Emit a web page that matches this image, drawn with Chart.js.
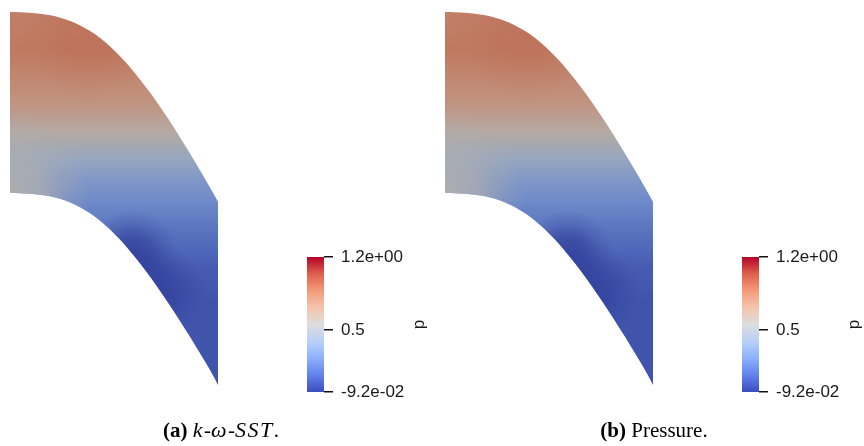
<!DOCTYPE html>
<html><head><meta charset="utf-8">
<script src="https://cdn.jsdelivr.net/npm/chart.js@4.4.0/dist/chart.umd.min.js"></script>
<style>
html,body{margin:0;padding:0;background:#fff;}
#wrap{position:relative;width:864px;height:446px;overflow:hidden;background:#fff;}
canvas{position:absolute;}
.cap{position:absolute;top:419px;width:260px;text-align:center;font-family:"Liberation Serif","Times New Roman",serif;font-size:21px;line-height:22px;color:#000;white-space:nowrap;}
.cap b{font-weight:bold;}
.cap i{font-style:italic;font-size:22px;letter-spacing:1.5px;}
</style></head><body>
<div id="wrap">
<canvas id="fa" width="230" height="400" style="left:0px;top:0px"></canvas>
<canvas id="fb" width="230" height="400" style="left:435px;top:0px"></canvas>
<canvas id="ca" width="150" height="190" style="left:290px;top:230px"></canvas>
<canvas id="cb" width="139" height="190" style="left:725px;top:230px"></canvas>
<div class="cap" style="left:91px"><b>(a)</b> <i>k</i>-<i>ω</i>-<i>SST</i>.</div>
<div class="cap" style="left:524px"><b>(b)</b> Pressure.</div>
</div>
<script>
// ---- geometry of the domain (data units) ----
const topEdgeX = [0,10,20,30,40,50,60,70,80,90,100,110,120,130,140,150,160,170,180,190,200,208];
const topEdgeY = [373,372.8,372.3,371.3,369.7,367.3,364,359.6,354,347.1,338.6,328.8,317.8,305.6,292.4,278.3,263.4,247.8,231.6,214.8,197.5,183.3];
const bottomEdgeX = [0,10,20,30,40,50,60,70,80,90,100,110,120,130,140,150,160,170,180,190,200,208];
const bottomEdgeY = [192,191.8,191.3,190.3,188.7,186.2,182.6,177.8,171.7,164.3,155.5,145.4,134.1,121.7,108.4,94.3,79.5,64.1,48.2,31.8,14.9,0];

// ---- pressure read along the height of the domain ----
const profileY = [373,335,285,252,225,205,185,152,118,85,0];
const profileP = [0.85,0.88,0.76,0.60,0.42,0.31,0.23,0.12,0.03,0.0,0.0];

// ---- local pressure extremes (centre, radius, value) ----
const spotX = [80,0,123,150];
const spotY = [355,192,130,95];
const spotR = [70,80,45,45];
const spotP = [0.93,0.55,-0.092,-0.092];
const spotA = [0.5,1.0,0.8,0.65];

// ---- colour bar ----
const pMin = -0.092, pMax = 1.2;
const tickValues = [-0.092, 0.5, 1.2];
const tickLabels = ['-9.2e-02', '0.5', '1.2e+00'];
const barTitle = 'p';

// ---- style ----
const CW = [[59,76,192],[98,130,234],[141,176,254],[184,208,249],[221,221,221],[244,196,173],[244,154,123],[222,96,77],[180,4,38]];
const SHADE = 0.79;
const LABEL_FONT = {family:'"Liberation Sans", Arial, sans-serif', size:17};

function cmap(p, shade, alpha){
  let f = (p - pMin) / (pMax - pMin);
  f = Math.max(0, Math.min(1, f));
  const s = f * 8, i = Math.min(7, Math.floor(s)), t = s - i;
  const c = CW[i].map((v,k)=>Math.round((v + (CW[i+1][k]-v)*t) * shade));
  return 'rgba(' + c[0] + ',' + c[1] + ',' + c[2] + ',' + alpha + ')';
}

function baseFill(context){
  const ch = context.chart;
  if (!ch.chartArea) return cmap(0.5, SHADE, 1);
  const ys = ch.scales.y;
  const y0 = ys.getPixelForValue(profileY[0]);
  const y1 = ys.getPixelForValue(profileY[profileY.length-1]);
  const g = ch.ctx.createLinearGradient(0, y0, 0, y1);
  profileY.forEach((v,i)=>{
    g.addColorStop((ys.getPixelForValue(v)-y0)/(y1-y0), cmap(profileP[i], SHADE, 1));
  });
  return g;
}
function spotFill(k){
  return function(context){
    const ch = context.chart;
    if (!ch.chartArea) return 'rgba(0,0,0,0)';
    const xs = ch.scales.x, ys = ch.scales.y;
    const cx = xs.getPixelForValue(spotX[k]), cy = ys.getPixelForValue(spotY[k]);
    const r = Math.abs(xs.getPixelForValue(spotX[k]+spotR[k]) - cx);
    const g = ch.ctx.createRadialGradient(cx, cy, 0, cx, cy, r);
    const a = spotA[k];
    g.addColorStop(0, cmap(spotP[k], SHADE, a));
    g.addColorStop(0.4, cmap(spotP[k], SHADE, a*0.75));
    g.addColorStop(0.7, cmap(spotP[k], SHADE, a*0.3));
    g.addColorStop(1, cmap(spotP[k], SHADE, 0));
    return g;
  };
}
function edgePair(fillFn, order){
  const common = {borderWidth:0, borderColor:'rgba(0,0,0,0)', pointRadius:0, pointHoverRadius:0, cubicInterpolationMode:'monotone', order:order};
  return [
    Object.assign({data: topEdgeX.map((x,i)=>({x:x, y:topEdgeY[i]})), fill:'+1', backgroundColor: fillFn}, common),
    Object.assign({data: bottomEdgeX.map((x,i)=>({x:x, y:bottomEdgeY[i]})), fill:false, backgroundColor:'rgba(0,0,0,0)'}, common)
  ];
}
function fieldChart(id){
  let ds = edgePair(baseFill, 20);
  spotX.forEach((_,k)=>{ ds = ds.concat(edgePair(spotFill(k), 10-k)); });
  return new Chart(document.getElementById(id), {
    type:'line',
    data:{datasets: ds},
    options:{
      responsive:false, animation:false, events:[],
      layout:{padding:0},
      plugins:{legend:{display:false}, tooltip:{enabled:false}},
      scales:{
        x:{type:'linear', min:-10, max:220, display:false},
        y:{type:'linear', min:-15, max:385, display:false}
      }
    }
  });
}

const cbTitlePlugin = {
  id:'cbTitle',
  afterDraw(chart, args, opts){
    const {ctx, chartArea} = chart;
    ctx.save();
    ctx.translate(chartArea.right + opts.dx, (chartArea.top + chartArea.bottom)/2 + opts.dy);
    ctx.rotate(-Math.PI/2);
    ctx.font = LABEL_FONT.size + 'px ' + LABEL_FONT.family;
    ctx.fillStyle = '#1a1a1a';
    ctx.textAlign = 'center';
    ctx.textBaseline = 'middle';
    ctx.fillText(opts.text, 0, 0);
    ctx.restore();
  }
};
function barFill(context){
  const ch = context.chart;
  if (!ch.chartArea) return cmap(0.5, 1, 1);
  const ys = ch.scales.y;
  const y0 = ys.getPixelForValue(pMin), y1 = ys.getPixelForValue(pMax);
  const g = ch.ctx.createLinearGradient(0, y0, 0, y1);
  CW.forEach((c,i)=>{ g.addColorStop(i/(CW.length-1), 'rgb(' + c.join(',') + ')'); });
  return g;
}
function colorBar(id, axisW, dx){
  return new Chart(document.getElementById(id), {
    type:'bar',
    data:{labels:[barTitle], datasets:[{data:[[pMin,pMax]], backgroundColor:barFill, borderWidth:0, barPercentage:1, categoryPercentage:1}]},
    options:{
      responsive:false, animation:false, events:[],
      layout:{padding:{left:17, top:27, bottom:28, right:0}},
      plugins:{legend:{display:false}, tooltip:{enabled:false}, cbTitle:{text:barTitle, dx:dx, dy:0}},
      scales:{
        x:{display:false},
        y:{
          position:'right', min:pMin, max:pMax,
          afterFit(s){ s.width = axisW; },
          afterBuildTicks(s){ s.ticks = tickValues.map(v=>({value:v})); },
          ticks:{callback:(v,i)=>tickLabels[i], font:LABEL_FONT, color:'#1a1a1a', padding:8, autoSkip:false, maxRotation:0},
          grid:{drawOnChartArea:false, drawTicks:true, tickLength:9, color:'#111', lineWidth:1.5},
          border:{display:false}
        }
      }
    },
    plugins:[cbTitlePlugin]
  });
}

fieldChart('fa');
fieldChart('fb');
colorBar('ca', 116, 95);
colorBar('cb', 105, 95);
</script>
</body></html>
